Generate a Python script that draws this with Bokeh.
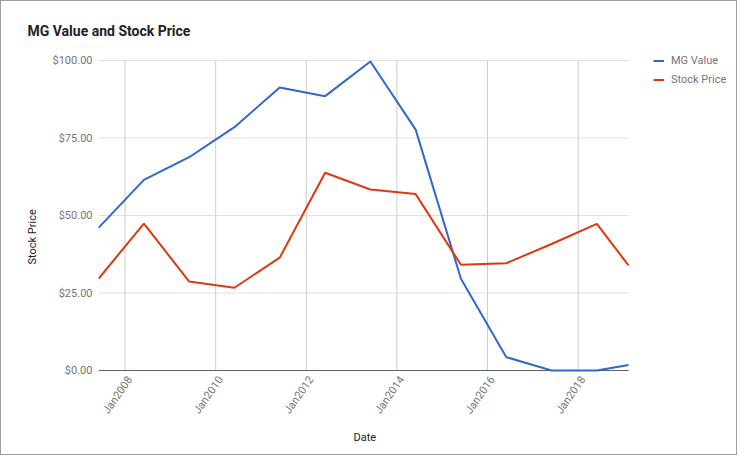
import pandas as pd
from bokeh.plotting import figure
from bokeh.models import (Range1d, FixedTicker, DatetimeTickFormatter, NumeralTickFormatter,
                          Legend, LegendItem, Title)
from bokeh.embed import file_html
from bokeh.resources import INLINE
import math

# ---- data ----
dates = ["2007-06-01", "2008-06-01", "2009-06-01", "2010-06-01", "2011-06-01", "2012-06-01",
         "2013-06-01", "2014-06-01", "2015-06-01", "2016-06-01", "2017-06-01", "2018-06-01",
         "2019-02-11"]
mg_value = [46.0, 61.5, 68.8, 78.5, 91.3, 88.5, 99.7, 77.7, 29.6, 4.3, 0.0, 0.0, 1.8]
stock_price = [29.6, 47.4, 28.7, 26.7, 36.4, 63.8, 58.4, 56.9, 34.1, 34.6, 40.8, 47.3, 33.9]
tick_years = [2008, 2010, 2012, 2014, 2016, 2018]
y_ticks = [0, 25, 50, 75, 100]
series_names = ["MG Value", "Stock Price"]

x = pd.to_datetime(dates)
DAY_MS = 86400000
grid_dt = pd.to_datetime([f"{y}-01-01" for y in tick_years])
grid_ms = [int(t.value // 10**6) for t in grid_dt]
label_ms = [t + 40 * DAY_MS for t in grid_ms]

FONT = "Roboto"
GRAY = "#757575"
DARK = "#222222"

# ---- layout (canvas pixels) ----
W, H = 737, 455
LEFT, TOP, BOTTOM = 97, 45, 84          # frame borders; frame reaches the right edge
DATA_RIGHT = 627                         # x pixel where the plotted dates end
Y100_PX, Y0_PX = 59, 369                 # pixel rows of 100 and 0
frame_w = W - LEFT
frame_top, frame_bot = TOP, H - BOTTOM

x0, x1 = x[0], x[-1]
span = x1 - x0
x_end = x0 + span * (frame_w / (DATA_RIGHT - LEFT))
ppu = (Y0_PX - Y100_PX) / 100.0
y_start = -(frame_bot - Y0_PX) / ppu
y_end = 100 + (Y100_PX - frame_top) / ppu

p = figure(width=W, height=H, x_axis_type="datetime",
           output_backend="svg", toolbar_location=None,
           min_border_left=LEFT, min_border_right=0, min_border_top=TOP, min_border_bottom=BOTTOM,
           x_range=Range1d(x0, x_end), y_range=Range1d(y_start, y_end),
           styles={"border": "1px solid #9e9e9e"})

p.outline_line_color = None
p.background_fill_color = "white"
p.border_fill_color = "white"
p.xgrid.grid_line_color = None
p.ygrid.grid_line_color = None

# title
p.title.text = "MG Value and Stock Price"
p.title.text_font = FONT
p.title.text_font_size = "14px"
p.title.text_font_style = "bold"
p.title.text_color = DARK
p.title.align = "left"
p.title.offset = -71
p.title.standoff = 15

# x axis
xa = p.xaxis[0]
xa.ticker = FixedTicker(ticks=label_ms)
fmt = "Jan%Y"
xa.formatter = DatetimeTickFormatter(years=fmt, months=fmt, days=fmt, hours=fmt,
                                     hourmin=fmt, minutes=fmt, minsec=fmt, seconds=fmt,
                                     milliseconds=fmt, microseconds=fmt)
xa.major_label_orientation = math.radians(55)
xa.major_label_text_font = FONT
xa.major_label_text_font_size = "11px"
xa.major_label_text_color = GRAY
xa.major_tick_line_color = None
xa.major_tick_out = 0
xa.major_tick_in = 0
xa.minor_tick_line_color = None
xa.minor_tick_out = 0
xa.axis_line_color = None
xa.major_label_standoff = 5

# y axis
ya = p.yaxis[0]
ya.ticker = FixedTicker(ticks=y_ticks)
ya.formatter = NumeralTickFormatter(format="$0,0.00")
ya.major_label_text_font = FONT
ya.major_label_text_font_size = "11px"
ya.major_label_text_color = GRAY
ya.major_tick_line_color = None
ya.major_tick_out = 0
ya.major_tick_in = 0
ya.minor_tick_line_color = None
ya.minor_tick_out = 0
ya.axis_line_color = None
ya.major_label_standoff = 6

# axis titles placed as panel titles so they can be offset like the reference
p.add_layout(Title(text="Date", align="left", offset=255, standoff=10,
                   text_font=FONT, text_font_size="11px", text_font_style="normal",
                   text_color=DARK), "below")
p.add_layout(Title(text="Stock Price", align="left", offset=108, standoff=22,
                   text_font=FONT, text_font_size="11px", text_font_style="normal",
                   text_color=DARK), "left")

# gridlines limited to the data area
p.segment(x0=[x0] * len(y_ticks), x1=[x1] * len(y_ticks), y0=y_ticks, y1=y_ticks,
          line_color="#e0e0e0", line_width=1)
p.segment(x0=grid_dt, x1=grid_dt, y0=[0] * len(grid_dt), y1=[100] * len(grid_dt),
          line_color="#cccccc", line_width=1)
p.segment(x0=[x0], x1=[x1], y0=[0], y1=[0], line_color="#616161", line_width=1.2)

r1 = p.line(x, mg_value, line_color="#3366cc", line_width=2)
r2 = p.line(x, stock_price, line_color="#dc3912", line_width=2)

legend = Legend(items=[LegendItem(label=series_names[0], renderers=[r1]),
                       LegendItem(label=series_names[1], renderers=[r2])],
                location=(555, 283), padding=0, margin=0, spacing=0,
                label_height=19, glyph_height=19, glyph_width=11, label_standoff=7,
                label_text_font=FONT, label_text_font_size="11px", label_text_color=GRAY,
                border_line_color=None, background_fill_alpha=0)
p.add_layout(legend, "center")

open("out.html", "w").write(file_html(p, INLINE))
